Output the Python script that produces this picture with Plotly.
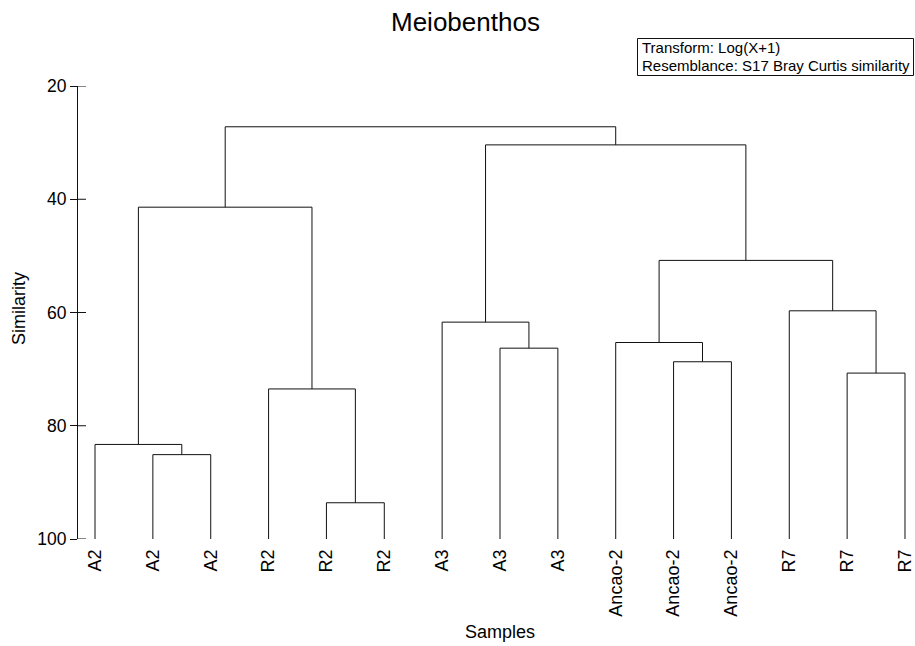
import plotly.graph_objects as go

# Sample labels (leaf order along the x axis)
labels = ["A2", "A2", "A2", "R2", "R2", "R2", "A3", "A3", "A3",
          "Ancao-2", "Ancao-2", "Ancao-2", "R7", "R7", "R7"]

# Cluster joins: ids 0..14 are samples, each join creates the next id (15, 16, ...)
join_left = [1, 0, 4, 3, 16, 7, 6, 10, 9, 13, 12, 23, 21, 19]
join_right = [2, 15, 5, 17, 18, 8, 20, 11, 22, 14, 24, 25, 26, 27]
join_similarity = [85.1, 83.3, 93.6, 73.5, 41.4, 66.3, 61.7, 68.7, 65.3,
                   70.7, 59.7, 50.8, 30.4, 27.2]

y_ticks = [20, 40, 60, 80, 100]

W, H = 915, 646
ML, MR, MT, MB = 78, 0, 86, 107

# Node positions / heights
xpos = {i: float(i) for i in range(len(labels))}
height = {i: 100.0 for i in range(len(labels))}
xs, ys = [], []
for k, (a, b, s) in enumerate(zip(join_left, join_right, join_similarity)):
    node = len(labels) + k
    xa, xb = xpos[a], xpos[b]
    xs += [xa, xa, xb, xb, None]
    ys += [height[a], s, s, height[b], None]
    xpos[node] = (xa + xb) / 2
    height[node] = s

fig = go.Figure()
fig.add_trace(go.Scatter(x=xs, y=ys, mode="lines",
                         line=dict(color="#111111", width=1),
                         hoverinfo="skip", showlegend=False))

font = "Liberation Sans, Arial, sans-serif"

fig.update_layout(
    width=W, height=H,
    margin=dict(l=ML, r=MR, t=MT, b=MB, pad=0),
    paper_bgcolor="white", plot_bgcolor="white",
    font=dict(family=font, color="black"),
    showlegend=False,
    xaxis=dict(range=[-0.294, 14.173], tickmode="array",
               tickvals=list(range(len(labels))), ticktext=labels,
               tickangle=-90, ticks="", showline=False, showgrid=False,
               zeroline=False, tickfont=dict(size=18, family=font, color="black"),
               ticklabelstandoff=6),
    yaxis=dict(range=[100, 20], tickmode="array", tickvals=y_ticks,
               ticks="outside", ticklen=7, tickwidth=1, tickcolor="#111111",
               showline=True, linecolor="#111111", linewidth=1,
               showgrid=False, zeroline=False,
               tickfont=dict(size=17.5, family=font, color="black")),
)

# inner half of the y tick marks
for t in y_ticks:
    fig.add_shape(type="line", xref="x domain", yref="y",
                  x0=0, x1=8 / (W - ML - MR), y0=t, y1=t,
                  line=dict(color="#111111", width=1))

PW = W - ML - MR
PH = H - MT - MB

def px_x(p):
    return (p - ML) / PW

def px_y(p):
    return 1 - (p - MT) / PH

fig.add_annotation(text="Meiobenthos", xref="paper", yref="paper",
                   x=px_x(465), y=px_y(22), xanchor="center", yanchor="middle",
                   showarrow=False, font=dict(size=26, family=font, color="black"))
fig.add_annotation(text="Similarity", xref="paper", yref="paper",
                   x=px_x(19), y=px_y(309), xanchor="center", yanchor="middle",
                   textangle=-90, showarrow=False,
                   font=dict(size=18, family=font, color="black"))
fig.add_annotation(text="Samples", xref="paper", yref="paper",
                   x=px_x(500), y=px_y(632), xanchor="center", yanchor="middle",
                   showarrow=False, font=dict(size=18, family=font, color="black"))

# info box: frame + two text lines
fig.add_shape(type="rect", xref="paper", yref="paper",
              x0=px_x(637.5), x1=px_x(913.5), y0=px_y(38.5), y1=px_y(75.5),
              line=dict(color="#111111", width=1), fillcolor="white", layer="above")
fig.add_annotation(text="Transform: Log(X+1)", xref="paper", yref="paper",
                   x=px_x(640), y=px_y(47), xanchor="left", yanchor="middle",
                   showarrow=False, font=dict(size=15, family=font, color="black"))
fig.add_annotation(text="Resemblance: S17 Bray Curtis similarity",
                   xref="paper", yref="paper", x=px_x(640), y=px_y(65),
                   xanchor="left", yanchor="middle",
                   showarrow=False, font=dict(size=15, family=font, color="black"))

fig.write_html("out.html")
